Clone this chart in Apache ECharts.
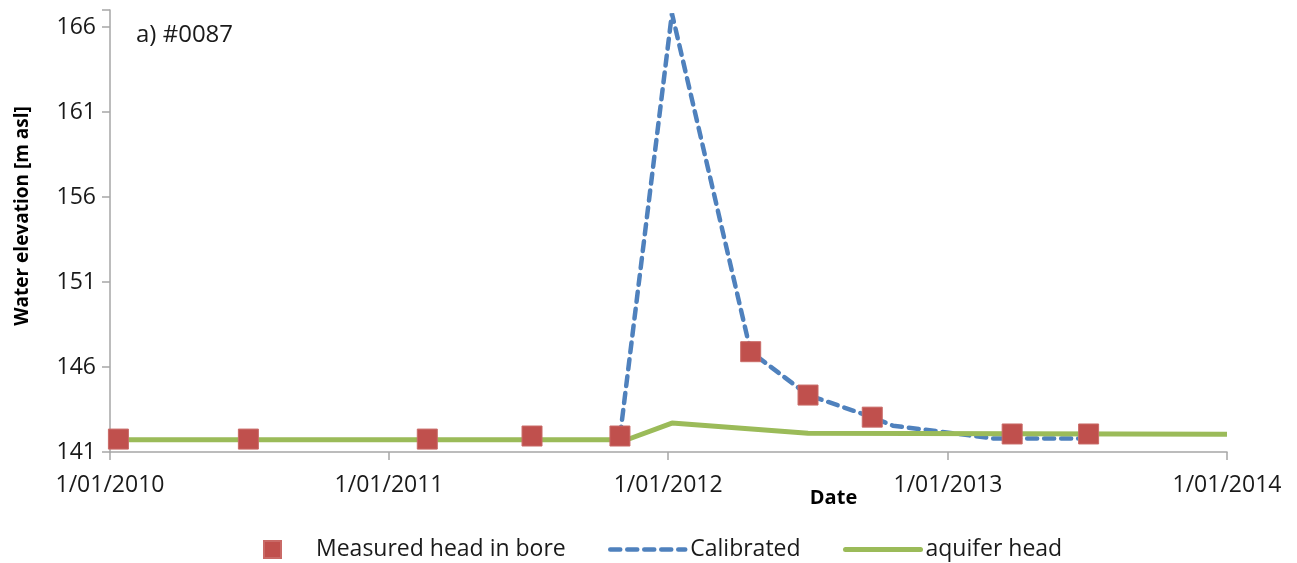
<!DOCTYPE html>
<html>
<head>
<meta charset="utf-8">
<script src="https://cdn.jsdelivr.net/npm/echarts@6/dist/echarts.min.js"></script>
<style>
html,body{margin:0;padding:0;background:#fff;}
#chart{width:1297px;height:563px;}
</style>
</head>
<body>
<div id="chart"></div>
<script>
// ---- data ----
const measuredDates = ['2010-01-12','2010-07-01','2011-02-20','2011-07-07','2011-10-30','2012-04-18','2012-07-02','2012-09-24','2013-03-26','2013-07-04'];
const measuredValues = [141.76,141.76,141.76,141.94,141.94,146.9,144.35,143.05,142.06,142.06];

const calibratedDates = ['2011-10-30','2012-01-06','2012-04-18','2012-07-02','2012-09-24','2012-10-21','2013-03-01','2013-07-04'];
const calibratedValues = [141.9,166.8,146.9,144.35,143.05,142.55,141.8,141.8];

const aquiferDates = ['2010-01-01','2011-11-08','2012-01-06','2012-07-02','2014-01-01'];
const aquiferValues = [141.72,141.72,142.7,142.1,142.05];

const yTicks = [141,146,151,156,161,166];
const seriesNames = ['Measured head in bore','Calibrated','aquifer head'];
const panelLabel = 'a) #0087';

// ---- chart ----
const FONT = 'Open Sans';
const zip = (d, v) => d.map((x, i) => [x, v[i]]);
const pad = n => (n < 10 ? '0' : '') + n;

const BLUE = '#4F81BD', GREEN = '#9BBB59', RED = '#C0504D';
const DASH = [10, 7];

const chart = echarts.init(document.getElementById('chart'), null, {renderer: 'canvas'});
const legendText = {fontFamily: FONT, fontSize: 23, color: '#1a1a1a'};

chart.setOption({
  animation: false,
  backgroundColor: '#ffffff',
  textStyle: {fontFamily: FONT},
  title: {
    text: panelLabel, left: 131, top: 18,
    textStyle: {fontFamily: FONT, fontSize: 24, fontWeight: 'normal', color: '#1a1a1a'}
  },
  grid: {left: 110, right: 70, top: 10, bottom: 111, containLabel: false, outerBoundsMode: 'none'},
  legend: [
    {data: [seriesNames[0]], left: 258, top: 533, itemWidth: 17, itemHeight: 17, icon: 'rect',
     textStyle: Object.assign({padding: [0, 0, 0, 30]}, legendText), selectedMode: false},
    {data: [seriesNames[1]], left: 603, top: 533, itemWidth: 75, itemHeight: 17,
     itemStyle: {opacity: 0},
     lineStyle: {color: BLUE, width: 4.5, type: DASH, cap: 'round', opacity: 1},
     textStyle: legendText, selectedMode: false},
    {data: [seriesNames[2]], left: 838, top: 533, itemWidth: 75, itemHeight: 17,
     itemStyle: {opacity: 0},
     lineStyle: {color: GREEN, width: 5, type: 'solid', cap: 'round', opacity: 1},
     textStyle: legendText, selectedMode: false}
  ],
  xAxis: {
    type: 'time',
    min: '2010-01-01', max: '2014-01-01',
    minInterval: 365 * 24 * 3600 * 1000,
    maxInterval: 366 * 24 * 3600 * 1000,
    name: 'Date', nameLocation: 'middle', nameGap: 36, nameMoveOverlap: false,
    nameTextStyle: {fontFamily: FONT, fontSize: 20, fontWeight: 'bold', color: '#000', padding: [0, 0, 0, 330]},
    axisLine: {show: true, lineStyle: {color: '#a6a6a6', width: 1.5}},
    axisTick: {show: true, length: 8, inside: false, lineStyle: {color: '#a6a6a6', width: 1.5}},
    splitLine: {show: false},
    axisLabel: {
      fontFamily: FONT, fontSize: 23, color: '#1a1a1a', margin: 22,
      showMinLabel: true, showMaxLabel: true, hideOverlap: false,
      formatter: v => { const d = new Date(v); return d.getDate() + '/' + pad(d.getMonth() + 1) + '/' + d.getFullYear(); }
    }
  },
  yAxis: {
    type: 'value', min: 141, max: 167, interval: 5,
    name: 'Water elevation [m asl]', nameLocation: 'middle', nameGap: 78, nameRotate: 90,
    nameTextStyle: {fontFamily: FONT, fontSize: 19, fontWeight: 'bold', color: '#000', padding: [0, 0, 0, 30]},
    axisLine: {show: true, lineStyle: {color: '#a6a6a6', width: 1.5}},
    axisTick: {show: true, length: 8, inside: false, lineStyle: {color: '#a6a6a6', width: 1.5}},
    splitLine: {show: false},
    axisLabel: {
      fontFamily: FONT, fontSize: 23, color: '#1a1a1a', margin: 14,
      formatter: v => (yTicks.indexOf(v) >= 0 ? String(v) : '')
    }
  },
  series: [
    {
      name: seriesNames[1], type: 'line', data: zip(calibratedDates, calibratedValues),
      showSymbol: false, symbol: 'none', z: 2,
      lineStyle: {color: BLUE, width: 4.5, type: DASH, cap: 'round'},
      itemStyle: {color: BLUE}
    },
    {
      name: seriesNames[2], type: 'line', data: zip(aquiferDates, aquiferValues),
      showSymbol: false, symbol: 'none', z: 3,
      lineStyle: {color: GREEN, width: 5},
      itemStyle: {color: GREEN}
    },
    {
      name: seriesNames[0], type: 'scatter', data: zip(measuredDates, measuredValues),
      symbol: 'rect', symbolSize: 20, z: 4,
      itemStyle: {color: RED, borderColor: '#c96a67', borderWidth: 1, opacity: 1}
    }
  ]
});
</script>
</body>
</html>
